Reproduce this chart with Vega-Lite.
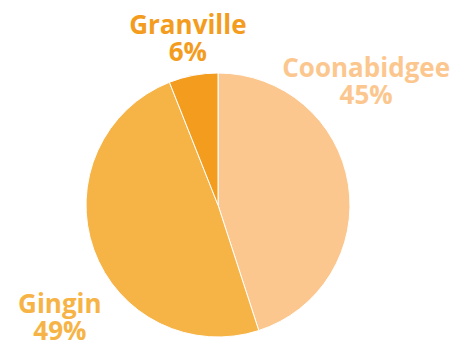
{
  "$schema": "https://vega.github.io/schema/vega-lite/v6.json",
  "width": 264,
  "height": 264,
  "autosize": {"type": "none"},
  "padding": {"left": 86, "top": 73, "right": 121, "bottom": 6},
  "background": "white",
  "view": {"stroke": null},
  "data": {
    "values": [
      {"site": "Coonabidgee", "share": 0.45},
      {"site": "Gingin", "share": 0.49},
      {"site": "Granville", "share": 0.06}
    ]
  },
  "transform": [
    {"calculate": "datum.site + '\\n' + format(datum.share, '.0%')", "as": "label"}
  ],
  "encoding": {
    "theta": {"field": "share", "type": "quantitative", "stack": true},
    "color": {
      "field": "site",
      "type": "nominal",
      "scale": {"domain": ["Coonabidgee", "Gingin", "Granville"], "range": ["#FCC78F", "#F7B446", "#F39C1E"]},
      "legend": null
    }
  },
  "layer": [
    {"mark": {"type": "arc", "radius": 132, "stroke": "white", "strokeWidth": 1}},
    {
      "mark": {"type": "text", "radius": 150, "dx": -2, "dy": -24, "align": "center", "baseline": "alphabetic", "lineBreak": "\n", "lineHeight": 27, "font": "Open Sans", "fontWeight": "bold", "fontSize": 26},
      "encoding": {"text": {"condition": {"test": "datum.site === 'Granville'", "field": "label"}, "value": ""}}
    },
    {
      "mark": {"type": "text", "radius": 150, "dx": 0, "dy": -105, "align": "center", "baseline": "alphabetic", "lineBreak": "\n", "lineHeight": 27, "font": "Open Sans", "fontWeight": "bold", "fontSize": 26},
      "encoding": {"text": {"condition": {"test": "datum.site === 'Coonabidgee'", "field": "label"}, "value": ""}}
    },
    {
      "mark": {"type": "text", "radius": 150, "dx": -17, "dy": 57, "align": "center", "baseline": "alphabetic", "lineBreak": "\n", "lineHeight": 27, "font": "Open Sans", "fontWeight": "bold", "fontSize": 26},
      "encoding": {"text": {"condition": {"test": "datum.site === 'Gingin'", "field": "label"}, "value": ""}}
    }
  ]
}
